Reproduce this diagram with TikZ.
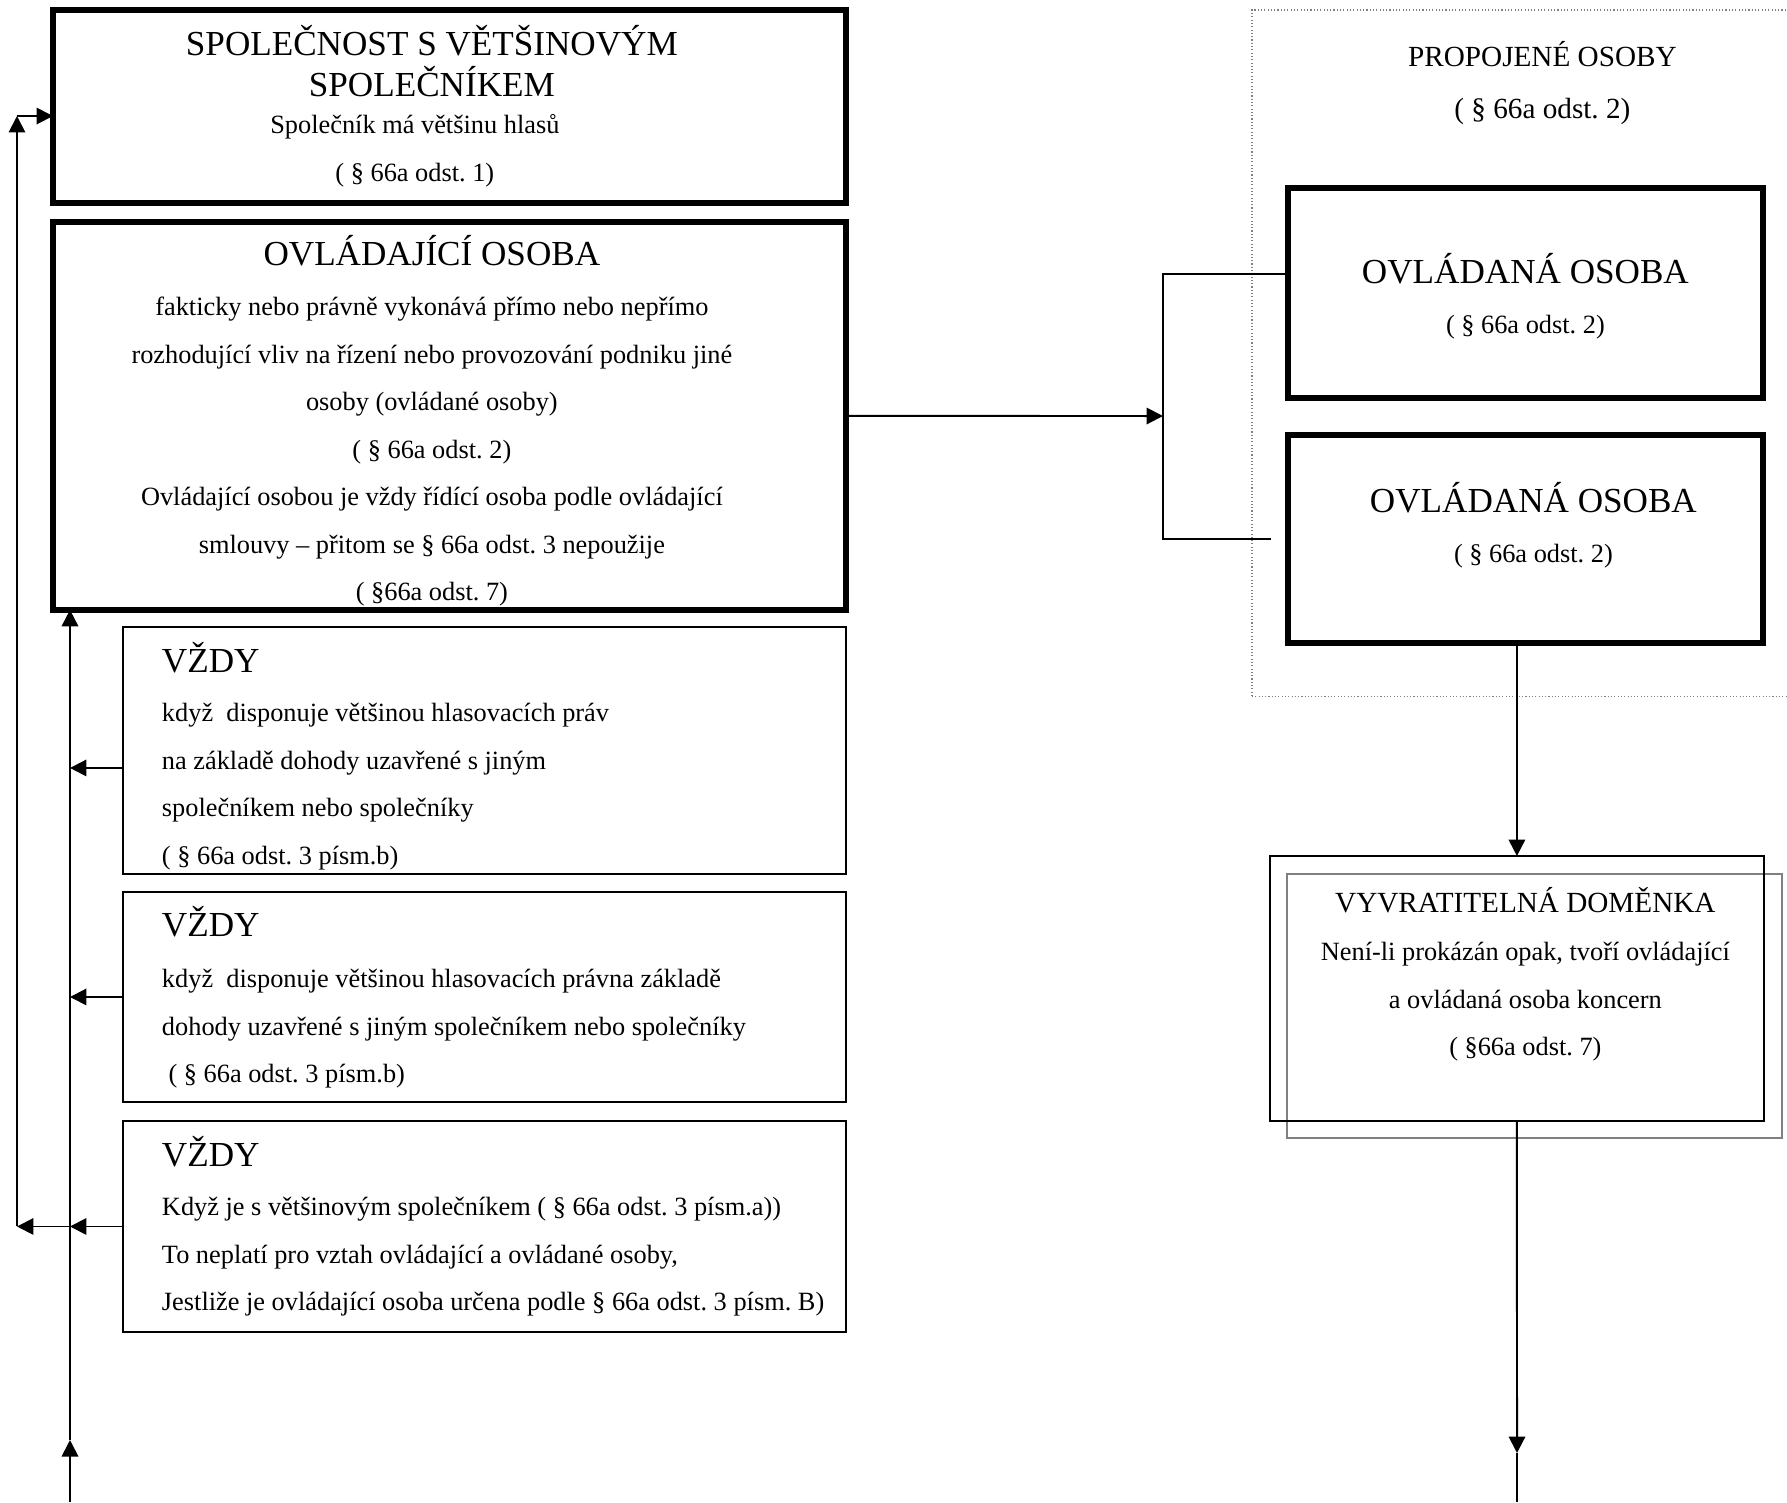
\documentclass[tikz,border=0pt]{standalone}
\usepackage{fontspec}
\setmainfont{Liberation Serif}
\usetikzlibrary{arrows.meta}
\frenchspacing

\begin{document}
\begin{tikzpicture}[x=0.016cm, y=-0.016cm]

\tikzstyle{boldbox}=[rectangle, draw, line width=2.7pt, inner sep=0pt, outer sep=0pt, anchor=north west]
\tikzstyle{thinbox}=[rectangle, draw, line width=0.9pt, inner sep=0pt, outer sep=0pt, anchor=north west]
\tikzstyle{groupbox}=[rectangle, draw=gray, densely dotted, line width=0.5pt, inner sep=0pt, outer sep=0pt, anchor=north west]
\tikzstyle{greybox}=[rectangle, draw=gray, line width=0.9pt, inner sep=0pt, outer sep=0pt, anchor=north west]
\tikzstyle{arrow}=[-{Triangle[length=7.5pt,width=7.5pt]}, line width=0.9pt]
\tikzstyle{link}=[line width=0.9pt]

\useasboundingbox (0,0) rectangle (1787,1502);

% propojene osoby
\node (PRO) [groupbox] at (1252,10) {\parbox[c][10.992cm][t]{8.608cm}{\centering\fontsize{13.3}{21.6}\selectfont\leftskip=19.6pt plus 1fil
\rule{0pt}{25.95pt}PROPOJENÉ OSOBY\\[2.07pt]
( § 66a odst. 2)}};

% left column
\node (SVS) [boldbox] at (53,10) {\parbox[c][3.088cm][t]{12.688cm}{\centering\fontsize{12}{21.6}\selectfont\rightskip=15.9pt plus 1fil
\rule{0pt}{20.49pt}{\fontsize{16}{21.6}\selectfont SPOLEČNOST S VĚTŠINOVÝM\\[-2.48pt]
SPOLEČNÍKEM}\\[-4.76pt]
\rightskip=31.4pt plus 1fil Společník má většinu hlasů\\
( § 66a odst. 1)}};

\node (OVL) [boldbox] at (53,222) {\parbox[c][6.208cm][t]{12.688cm}{\centering\fontsize{12}{21.6}\selectfont\rightskip=15.9pt plus 1fil
\rule{0pt}{19.58pt}{\fontsize{16}{21.6}\selectfont OVLÁDAJÍCÍ OSOBA}\\[1.62pt]
fakticky nebo právně vykonává přímo nebo nepřímo\\
rozhodující vliv na řízení nebo provozování podniku jiné\\
osoby (ovládané osoby)\\
( § 66a odst. 2)\\
Ovládající osobou je vždy řídící osoba podle ovládající\\
smlouvy – přitom se § 66a odst. 3 nepoužije\\
( §66a odst. 7)}};

\node (V1) [thinbox] at (123,627) {\parbox[c][3.952cm][t]{11.568cm}{\raggedright\leftskip=17.75pt\rightskip=-1cm plus 1fil\fontsize{12}{21.6}\selectfont
\rule{0pt}{20.49pt}{\fontsize{16}{21.6}\selectfont VŽDY}\\[1.16pt]
když\ \ disponuje většinou hlasovacích práv\\
na základě dohody uzavřené s jiným\\
společníkem nebo společníky\\
( § 66a odst. 3 písm.b)}};

\node (V2) [thinbox] at (123,892) {\parbox[c][3.36cm][t]{11.568cm}{\raggedright\leftskip=17.75pt\rightskip=-1cm plus 1fil\fontsize{12}{21.6}\selectfont
\rule{0pt}{20.03pt}{\fontsize{16}{21.6}\selectfont VŽDY}\\[2.07pt]
když\ \ disponuje většinou hlasovacích právna základě\\
dohody uzavřené s jiným společníkem nebo společníky\\
\hspace*{0.25em}( § 66a odst. 3 písm.b)}};

\node (V3) [thinbox] at (123,1121) {\parbox[c][3.376cm][t]{11.568cm}{\raggedright\leftskip=17.75pt\rightskip=-1cm plus 1fil\fontsize{12}{21.6}\selectfont
\rule{0pt}{20.49pt}{\fontsize{16}{21.6}\selectfont VŽDY}\\[1.16pt]
Když je s většinovým společníkem ( § 66a odst. 3 písm.a))\\
To neplatí pro vztah ovládající a ovládané osoby,\\
Jestliže je ovládající osoba určena podle § 66a odst. 3 písm. B)}};

% right column
\node (OD1) [boldbox] at (1288,188) {\parbox[c][3.36cm][t]{7.6cm}{\centering\fontsize{12}{21.6}\selectfont
\rule{0pt}{43.7pt}{\fontsize{16}{21.6}\selectfont OVLÁDANÁ OSOBA}\\[1.16pt]
( § 66a odst. 2)}};

\node (OD2) [boldbox] at (1288,435) {\parbox[c][3.328cm][t]{7.6cm}{\centering\fontsize{12}{21.6}\selectfont\leftskip=7.3pt plus 1fil
\rule{0pt}{35.5pt}{\fontsize{16}{21.6}\selectfont OVLÁDANÁ OSOBA}\\[1.16pt]
( § 66a odst. 2)}};

\node (VDg) [greybox, minimum width=7.92cm, minimum height=4.224cm] at (1287,874) {};
\node (VD) [thinbox] at (1270,856) {\parbox[c][4.24cm][t]{7.904cm}{\centering\fontsize{12}{21.6}\selectfont\leftskip=7.7pt plus 1fil
\rule{0pt}{25.5pt}{\fontsize{13.3}{21.6}\selectfont VYVRATITELNÁ DOMĚNKA}\\[0.7pt]
Není-li prokázán opak, tvoří ovládající\\
a ovládaná osoba koncern\\
( §66a odst. 7)}};

% bus points
\coordinate (B) at (70,1502);
\coordinate (Bm) at (70,1440);
\coordinate (C) at (17,116);
\coordinate (J) at (1163,416);
\coordinate (E) at (1517,1453);
\coordinate (Eb) at (1517,1502);
\coordinate (V1a) at ([yshift=-0.28cm]V1.west);
\coordinate (OD1a) at ([yshift=0.304cm]OD1.west);
\coordinate (OD2b) at ([xshift=-0.272cm]OD2.west);

% left connectors
\draw[arrow] (B) -- (Bm);
\draw[arrow] (Bm) -- (B |- OVL.south);
\draw[arrow] (V1a) -- (V1a -| B);
\draw[arrow] (V2.west) -- (V2.west -| B);
\draw[arrow] (V3.west) -- (V3.west -| B);
\draw[arrow] (V3.west -| B) -- (V3.west -| C);
\draw[arrow] (V3.west -| C) -- (C);
\draw[arrow] (C) -- (C -| SVS.west);

% right connectors
\draw[arrow] (OVL.east) -- (J);
\draw[link] (OD1a) -| (J) |- (OD2b);
\draw[arrow] (VD.north |- OD2.south) -- (VD.north);
\draw[arrow] (VD.south) -- (E);
\draw[link] (E) -- (Eb);

\end{tikzpicture}
\end{document}
